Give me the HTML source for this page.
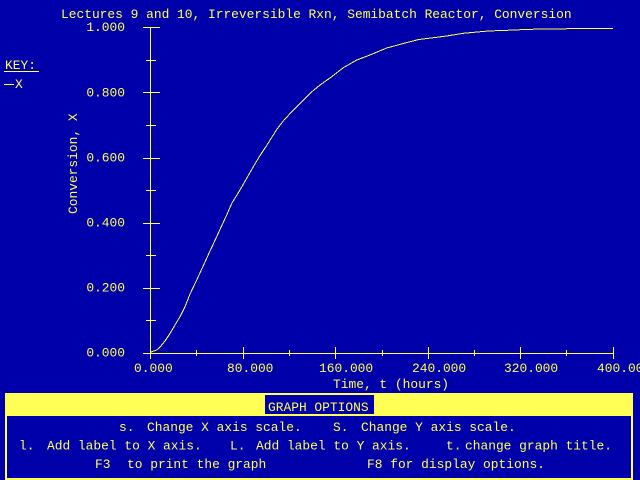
<!DOCTYPE html>
<html>
<head>
<meta charset="utf-8">
<style>
  html,body{margin:0;padding:0;background:#0000AA;}
  svg{display:block;}
  text{font-family:"Liberation Mono","DejaVu Sans Mono",monospace;font-size:12.9px;fill:#FFFF55;}
</style>
</head>
<body>
<svg width="640" height="480" viewBox="0 0 640 480" xmlns="http://www.w3.org/2000/svg">
  <rect x="0" y="0" width="640" height="480" fill="#0000AA"/>

  <!-- Title -->
  <text x="61" y="18">Lectures 9 and 10, Irreversible Rxn, Semibatch Reactor, Conversion</text>

  <!-- Key -->
  <text x="5" y="69">KEY:</text>
  <rect x="4" y="71" width="35" height="1" fill="#FFFF55"/>
  <rect x="4" y="84" width="10" height="1" fill="#FFFF55"/>
  <text x="15" y="88">X</text>

  <g shape-rendering="crispEdges" fill="#FFFF55">
    <!-- Y axis -->
    <rect x="150" y="27" width="1" height="327"/>
    <!-- X axis -->
    <rect x="143" y="353" width="471" height="1"/>
    <!-- Y major ticks -->
    <rect x="143" y="27" width="17" height="1"/>
    <rect x="143" y="92" width="17" height="1"/>
    <rect x="143" y="158" width="17" height="1"/>
    <rect x="143" y="223" width="17" height="1"/>
    <rect x="143" y="288" width="17" height="1"/>
    <!-- Y minor ticks -->
    <rect x="146" y="60" width="10" height="1"/>
    <rect x="146" y="125" width="10" height="1"/>
    <rect x="146" y="190" width="10" height="1"/>
    <rect x="146" y="255" width="10" height="1"/>
    <rect x="146" y="320" width="10" height="1"/>
    <!-- X major ticks -->
    <rect x="150" y="347" width="1" height="12"/>
    <rect x="243" y="347" width="1" height="12"/>
    <rect x="335" y="347" width="1" height="12"/>
    <rect x="428" y="347" width="1" height="12"/>
    <rect x="520" y="347" width="1" height="12"/>
    <rect x="613" y="347" width="1" height="12"/>
    <!-- X minor ticks -->
    <rect x="196" y="350" width="1" height="6"/>
    <rect x="289" y="350" width="1" height="6"/>
    <rect x="382" y="350" width="1" height="6"/>
    <rect x="474" y="350" width="1" height="6"/>
    <rect x="566" y="350" width="1" height="6"/>
  </g>

  <!-- Y tick labels -->
  <text x="125" y="31" text-anchor="end">1.000</text>
  <text x="125" y="96.5" text-anchor="end">0.800</text>
  <text x="125" y="161.5" text-anchor="end">0.600</text>
  <text x="125" y="226.5" text-anchor="end">0.400</text>
  <text x="125" y="291.5" text-anchor="end">0.200</text>
  <text x="125" y="356.5" text-anchor="end">0.000</text>

  <!-- X tick labels -->
  <text x="134" y="372">0.000</text>
  <text x="227" y="372">80.000</text>
  <text x="319" y="372">160.000</text>
  <text x="412" y="372">240.000</text>
  <text x="504" y="372">320.000</text>
  <text x="597" y="372">400.000</text>

  <!-- Axis titles -->
  <text x="333" y="388">Time, t (hours)</text>
  <text transform="translate(77,214) rotate(-90)" x="0" y="0">Conversion, X</text>

  <!-- Curve -->
  <polyline fill="none" stroke="#FFFF55" stroke-width="1" shape-rendering="crispEdges"
    points="150,353 151.7,351.7 156.7,350 160,347 165,341 170,333.5 175,325 180,316.7 185,306.7 190,294 196.7,280 203.3,265.7 210,251 213.3,244 220,229.5 226.7,215 231.7,203.5 240,190 246.7,178.3 253.3,166.7 260,155.5 266.7,145.5 271.7,137.5 276.7,129.5 283.3,121 291.7,111.7 300,103.3 310,93.3 320,85 331.7,76.7 343.3,67.7 356.7,60 370,55 386.7,48 403.3,43.5 418.3,39.6 433.3,37.7 446.7,36 463.3,33.3 488.3,31 506.7,30.3 530,29.3 570,28.7 613,28.3"/>

  <!-- Bottom options panel -->
  <rect x="5" y="393" width="628" height="87" fill="#FFFF55"/>
  <rect x="7" y="416" width="624" height="62" fill="#0000AA"/>
  <rect x="265" y="395" width="109" height="19" fill="#0000AA"/>
  <text x="268" y="411">GRAPH OPTIONS</text>

  <text x="119" y="431">s.</text>
  <text x="147" y="431">Change X axis scale.</text>
  <text x="333" y="431">S.</text>
  <text x="361" y="431">Change Y axis scale.</text>

  <text x="19" y="449.5">l.</text>
  <text x="47" y="449.5">Add label to X axis.</text>
  <text x="230" y="449.5">L.</text>
  <text x="256" y="449.5">Add label to Y axis.</text>
  <text x="446" y="449.5">t.</text>
  <text x="465" y="449.5">change graph title.</text>

  <text x="95" y="468">F3</text>
  <text x="127" y="468">to print the graph</text>
  <text x="367" y="468">F8 for display options.</text>
</svg>
</body>
</html>
